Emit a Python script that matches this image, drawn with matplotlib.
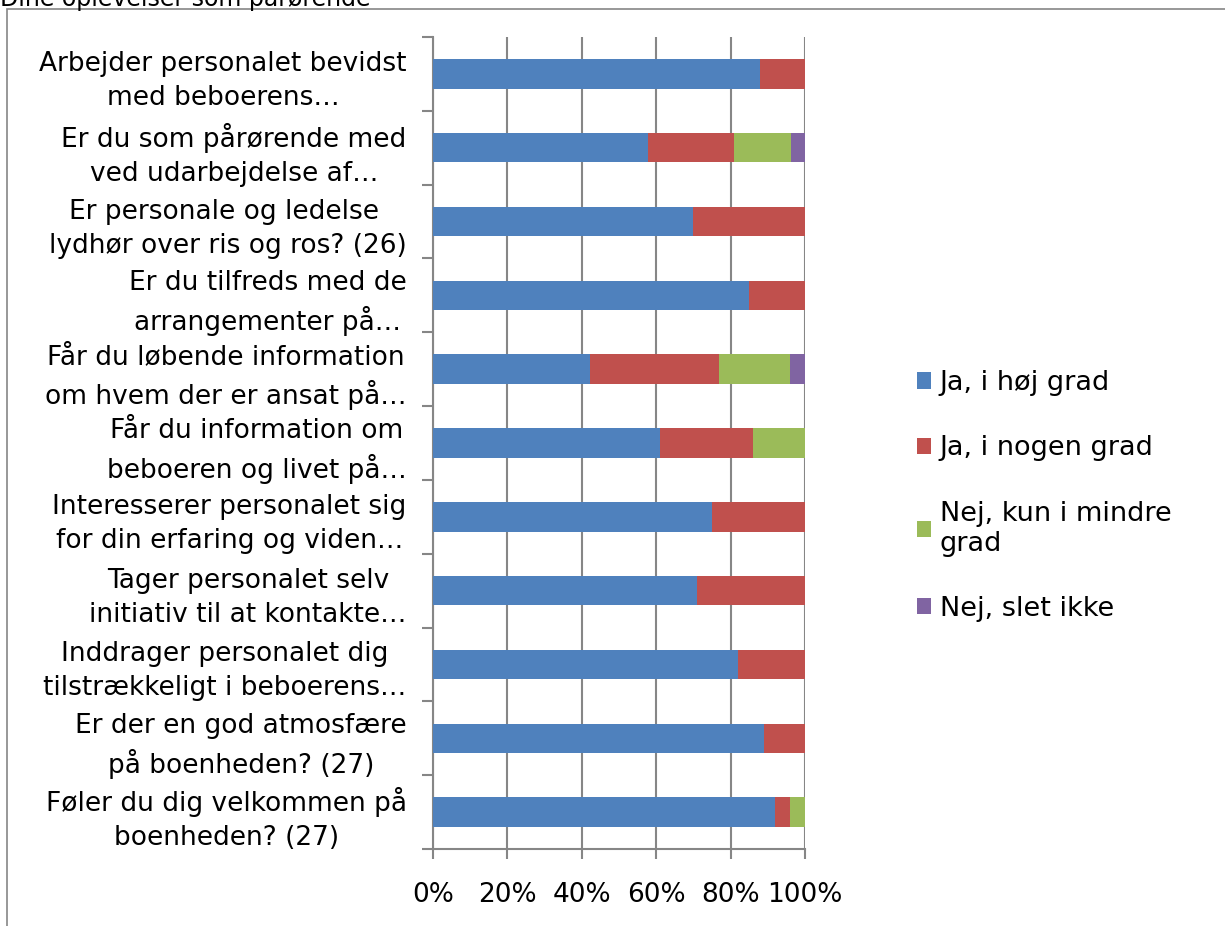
import numpy as np
import matplotlib
matplotlib.use("Agg")
from matplotlib import pyplot as plt
from matplotlib.patches import Rectangle

# questions, top to bottom as in the chart
questions = [
    "Arbejder personalet bevidst\nmed beboerens…",
    "Er du som pårørende med\nved udarbejdelse af…",
    "Er personale og ledelse \nlydhør over ris og ros? (26)",
    "Er du tilfreds med de\narrangementer på…",
    "Får du løbende information\nom hvem der er ansat på…",
    "Får du information om\nbeboeren og livet på…",
    "Interesserer personalet sig\nfor din erfaring og viden…",
    "Tager personalet selv\ninitiativ til at kontakte…",
    "Inddrager personalet dig\ntilstrækkeligt i beboerens…",
    "Er der en god atmosfære\npå boenheden? (27)",
    "Føler du dig velkommen på\nboenheden? (27)",
]

series_names = ["Ja, i høj grad", "Ja, i nogen grad", "Nej, kun i mindre\ngrad", "Nej, slet ikke"]
colors = ["#4F81BD", "#C0504D", "#9BBB59", "#8064A2"]

# percentages per question (same order as questions)
ja_hoej = [88, 57.7, 70, 85, 42.3, 61, 75, 71, 82, 89, 92]
ja_nogen = [12, 23.1, 30, 15, 34.6, 25, 25, 29, 18, 11, 4]
nej_mindre = [0, 15.4, 0, 0, 19.2, 14, 0, 0, 0, 0, 4]
nej_slet = [0, 3.8, 0, 0, 3.8, 0, 0, 0, 0, 0, 0]

title = "Dine oplevelser som pårørende"
xticks = [0, 20, 40, 60, 80, 100]
xtick_labels = ["0%", "20%", "40%", "60%", "80%", "100%"]

plt.rcParams["font.family"] = "DejaVu Sans"
grey = "#868686"
fs = 19

fig = plt.figure(figsize=(12.25, 9.26), dpi=100)
ax = fig.add_axes([433 / 1225, 1 - 849 / 926, 372 / 1225, 812 / 926])

data = np.array([ja_hoej, ja_nogen, nej_mindre, nej_slet])
y = np.arange(len(questions))
left = np.zeros(len(questions))
for vals, name, c in zip(data, series_names, colors):
    ax.barh(y, vals, left=left, height=0.4, color=c, label=name, zorder=3)
    left += vals

ax.set_xlim(0, 100)
ax.set_ylim(len(questions) - 0.5, -0.5)

ax.set_xticks(xticks)
ax.set_xticklabels(xtick_labels, fontsize=fs)
ax.xaxis.grid(True, color=grey, linewidth=1.5, zorder=0)
ax.tick_params(axis="x", length=7, width=1.5, color=grey, pad=17)

ax.set_yticks(y)
ax.set_yticklabels(questions, fontsize=fs, ha="right", multialignment="center", linespacing=1.4)
ax.set_yticks(np.arange(-0.5, len(questions)), minor=True)
ax.tick_params(axis="y", which="major", length=0, pad=19)
ax.tick_params(axis="y", which="minor", length=8, width=1.5, color=grey)

for s in ["top", "right"]:
    ax.spines[s].set_visible(False)
for s in ["left", "bottom"]:
    ax.spines[s].set_color(grey)
    ax.spines[s].set_linewidth(1.5)

ax.legend(loc="center left", bbox_to_anchor=(903 / 1225, 1 - 496 / 926), bbox_transform=fig.transFigure,
          frameon=False, fontsize=19.5, handlelength=0.55, handleheight=0.55, handletextpad=0.3,
          labelspacing=1.45, borderpad=0)

fig.text(0, 1 - 6 / 926, title, fontsize=17, ha="left", va="baseline")
fig.patches.append(Rectangle((7 / 1225, -0.1), 1.2, 1.1 - 9 / 926, transform=fig.transFigure,
                             fill=False, edgecolor=grey, linewidth=1.2))

fig.savefig("out.png", dpi=100)
